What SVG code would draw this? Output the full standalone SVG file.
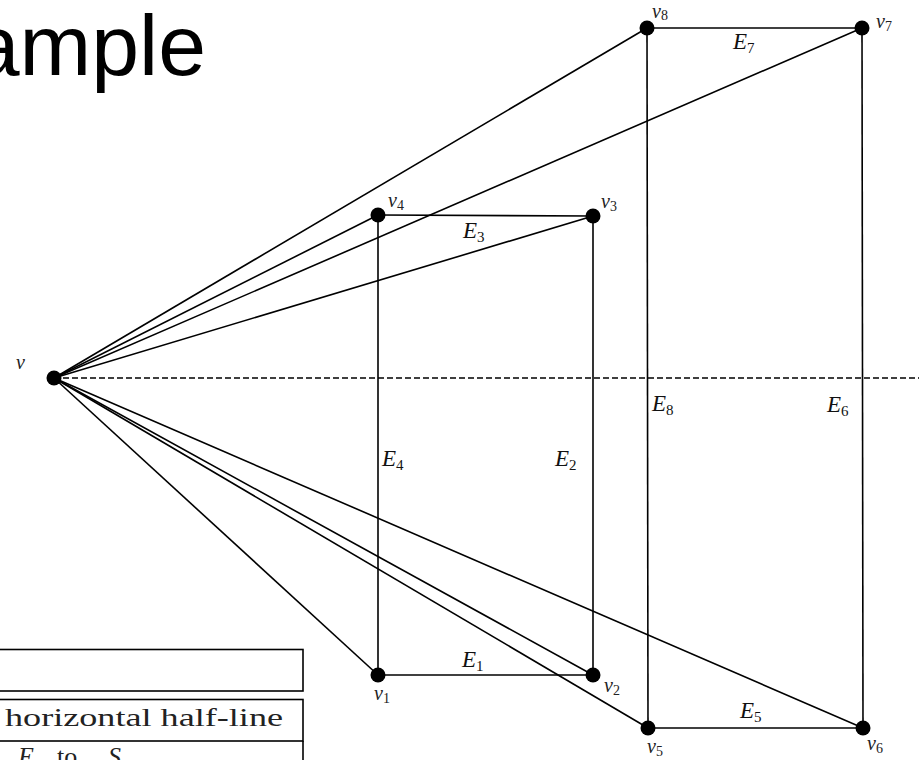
<svg xmlns="http://www.w3.org/2000/svg" width="919" height="760" viewBox="0 0 919 760">
<style>
.ln{stroke:#000;stroke-width:1.6;fill:none}
.dash{stroke:#000;stroke-width:1.5;stroke-dasharray:6 3;fill:none}
.dot{fill:#000}
.lbl{font-family:"Liberation Serif",serif;font-style:italic;font-size:20px;fill:#222}
.elbl{font-family:"Liberation Serif",serif;font-style:italic;font-size:23px;fill:#111}
.sub{font-style:normal;font-size:14px}
.esub{font-style:normal;font-size:15px}
.tbl{font-family:"Liberation Serif",serif;font-size:26px;fill:#222}
.title{font-family:"Liberation Sans",Arial,sans-serif;font-size:86px;fill:#000}
</style>
<rect width="919" height="760" fill="#fff"/>
<text class="title" x="206" y="75" text-anchor="end">ample</text>

<g id="connectors">
<line class="dash" x1="54" y1="378" x2="919" y2="378"/>
<line class="ln" x1="54" y1="378" x2="647" y2="28"/>
<line class="ln" x1="54" y1="378" x2="862" y2="28"/>
<line class="ln" x1="54" y1="378" x2="378" y2="215"/>
<line class="ln" x1="54" y1="378" x2="593" y2="216"/>
<line class="ln" x1="54" y1="378" x2="378" y2="675"/>
<line class="ln" x1="54" y1="378" x2="593" y2="675"/>
<line class="ln" x1="54" y1="378" x2="648" y2="728"/>
<line class="ln" x1="54" y1="378" x2="863" y2="728"/>
<line class="ln" x1="378" y1="215" x2="593" y2="216"/>
<line class="ln" x1="593" y1="216" x2="593" y2="675"/>
<line class="ln" x1="593" y1="675" x2="378" y2="675"/>
<line class="ln" x1="378" y1="675" x2="378" y2="215"/>
<line class="ln" x1="647" y1="28" x2="862" y2="28"/>
<line class="ln" x1="862" y1="28" x2="863" y2="728"/>
<line class="ln" x1="863" y1="728" x2="648" y2="728"/>
<line class="ln" x1="648" y1="728" x2="647" y2="28"/>
<text class="elbl" x="733" y="49">E<tspan class="esub" dy="4">7</tspan></text>
<text class="elbl" x="463" y="238">E<tspan class="esub" dy="4">3</tspan></text>
<text class="elbl" x="462" y="667">E<tspan class="esub" dy="4">1</tspan></text>
<text class="elbl" x="740" y="718">E<tspan class="esub" dy="4">5</tspan></text>
<text class="elbl" x="382" y="466">E<tspan class="esub" dy="4">4</tspan></text>
<text class="elbl" x="555" y="466">E<tspan class="esub" dy="4">2</tspan></text>
<text class="elbl" x="652" y="411">E<tspan class="esub" dy="4">8</tspan></text>
<text class="elbl" x="827" y="412">E<tspan class="esub" dy="4">6</tspan></text>
</g>

<g id="v"><circle class="dot" cx="54" cy="378" r="7.5"/><text class="lbl" x="16" y="369">v</text></g>
<g id="v1"><circle class="dot" cx="378" cy="675" r="7.5"/><text class="lbl" x="374" y="700">v<tspan class="sub" dy="3">1</tspan></text></g>
<g id="v2"><circle class="dot" cx="593" cy="675" r="7.5"/><text class="lbl" x="604" y="692">v<tspan class="sub" dy="3">2</tspan></text></g>
<g id="v3"><circle class="dot" cx="593" cy="216" r="7.5"/><text class="lbl" x="601" y="208">v<tspan class="sub" dy="3">3</tspan></text></g>
<g id="v4"><circle class="dot" cx="378" cy="215" r="7.5"/><text class="lbl" x="388" y="207">v<tspan class="sub" dy="3">4</tspan></text></g>
<g id="v5"><circle class="dot" cx="648" cy="728" r="7.5"/><text class="lbl" x="647" y="753">v<tspan class="sub" dy="3">5</tspan></text></g>
<g id="v6"><circle class="dot" cx="863" cy="728" r="7.5"/><text class="lbl" x="867" y="750">v<tspan class="sub" dy="3">6</tspan></text></g>
<g id="v7"><circle class="dot" cx="862" cy="28" r="7.5"/><text class="lbl" x="876" y="28">v<tspan class="sub" dy="3">7</tspan></text></g>
<g id="v8"><circle class="dot" cx="647" cy="28" r="7.5"/><text class="lbl" x="652" y="18">v<tspan class="sub" dy="2">8</tspan></text></g>

<g id="table">
<rect class="ln" x="-5" y="649.5" width="308" height="41.5"/>
<rect class="ln" x="-5" y="699.5" width="308" height="41.5"/>
<polyline class="ln" points="303,741 303,765"/>
<text class="tbl" x="5" y="726" textLength="278" lengthAdjust="spacingAndGlyphs">horizontal half-line</text>
<text class="tbl" x="18" y="765"><tspan font-style="italic">E</tspan><tspan x="57">to</tspan><tspan x="108" font-style="italic">S</tspan></text>
</g>
</svg>
